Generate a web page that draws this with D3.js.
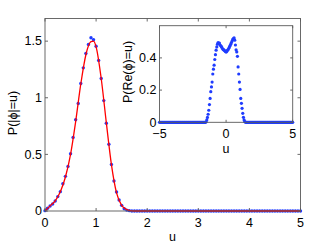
<!DOCTYPE html>
<html>
<head>
<meta charset="utf-8">
<script src="https://cdn.jsdelivr.net/npm/d3@7"></script>
<style>
  body { margin: 0; background: #fff; }
  text { font-family: "Liberation Sans", Arial, sans-serif; fill: #000; }
</style>
</head>
<body>
<div id="chart"></div>
<script>
// ---- data ----
// main panel: histogram of |phi| on a 0.05 grid
const mainU = d3.range(0, 101).map(i => i * 0.05);
const mainP = [
  0.003, 0.024, 0.044, 0.062, 0.088, 0.127, 0.171, 0.241, 0.306, 0.394,
  0.506, 0.650, 0.806, 0.950, 1.126, 1.264, 1.391, 1.470, 1.530, 1.512,
  1.455, 1.330, 1.170, 0.975, 0.775, 0.590, 0.410, 0.265, 0.168, 0.097,
  0.050, 0.020, 0.008, 0.003, 0, 0, 0, 0, 0, 0,
  0, 0, 0, 0, 0, 0, 0, 0, 0, 0,
  0, 0, 0, 0, 0, 0, 0, 0, 0, 0,
  0, 0, 0, 0, 0, 0, 0, 0, 0, 0,
  0, 0, 0, 0, 0, 0, 0, 0, 0, 0,
  0, 0, 0, 0, 0, 0, 0, 0, 0, 0,
  0, 0, 0, 0, 0, 0, 0, 0, 0, 0,
  0
];
// main panel: red theory curve
const curveU = [0, 0.1, 0.2, 0.3, 0.4, 0.5, 0.6, 0.7, 0.8, 0.9, 0.95, 1.0, 1.1, 1.2, 1.3, 1.4, 1.5, 1.6, 1.7, 1.8, 2.5, 3.5, 5];
const curveP = [0, 0.045, 0.09, 0.17, 0.30, 0.50, 0.79, 1.12, 1.38, 1.495, 1.50, 1.45, 1.17, 0.78, 0.41, 0.16, 0.05, 0.012, 0.002, 0, 0, 0, 0];

// inset: histogram of Re(phi) on a 0.05 grid from -5 to 5
const insetU = d3.range(0, 201).map(i => -5 + i * 0.05);
const insetP = [
  0, 0, 0, 0, 0, 0, 0, 0, 0, 0, 0, 0, 0, 0, 0, 0, 0, 0, 0, 0,
  0, 0, 0, 0, 0, 0, 0, 0, 0, 0, 0, 0, 0, 0, 0, 0, 0, 0, 0, 0,
  0, 0, 0, 0, 0, 0, 0, 0, 0, 0, 0, 0, 0, 0, 0, 0, 0, 0, 0, 0,
  0, 0, 0, 0, 0, 0, 0, 0, 0, 0,
  0.003, 0.015, 0.030, 0.050, 0.075, 0.110, 0.148, 0.190, 0.220, 0.250,  // -1.50 .. -1.05
  0.300, 0.330, 0.355, 0.390, 0.420, 0.448, 0.468, 0.485, 0.495, 0.490,  // -1.00 .. -0.55
  0.492, 0.480, 0.475, 0.470, 0.462, 0.455, 0.452, 0.448, 0.444, 0.440,  // -0.50 .. -0.05
  0.436, 0.440, 0.447, 0.452, 0.460, 0.468, 0.476, 0.485, 0.495, 0.505,  //  0.00 ..  0.45
  0.515, 0.520, 0.524, 0.510, 0.480, 0.450, 0.437, 0.410, 0.344, 0.300,  //  0.50 ..  0.95
  0.250, 0.204, 0.148, 0.118, 0.087, 0.056, 0.031, 0.015, 0.005, 0.001,  //  1.00 ..  1.45
  0, 0, 0, 0, 0, 0, 0, 0, 0, 0, 0, 0, 0, 0, 0, 0, 0, 0, 0, 0,
  0, 0, 0, 0, 0, 0, 0, 0, 0, 0, 0, 0, 0, 0, 0, 0, 0, 0, 0, 0,
  0, 0, 0, 0, 0, 0, 0, 0, 0, 0, 0, 0, 0, 0, 0, 0, 0, 0, 0, 0,
  0, 0, 0, 0, 0, 0, 0, 0, 0, 0, 0
];

const mainXTicks = [0, 1, 2, 3, 4, 5];
const mainYTicks = [0, 0.5, 1, 1.5];
const insetXTicks = [-5, 0, 5];
const insetYTicks = [0, 0.2, 0.4];

// ---- svg ----
const width = 332, height = 245;
const svg = d3.select("#chart").append("svg")
  .attr("width", width)
  .attr("height", height);

const dotColor = "#1f3cff";
const axisColor = "#5a5a5a";

// main axes
const x = d3.scaleLinear().domain([0, 5]).range([45, 300.5]);
const y = d3.scaleLinear().domain([0, 1.7]).range([211, 18.5]);

function drawBox(g, sx, sy, xt, yt, tick, fmtX, fmtY, fs, xLabDy) {
  const [x0, x1] = sx.range();
  const [y0, y1] = sy.range();
  g.append("rect")
    .attr("x", x0).attr("y", y1)
    .attr("width", x1 - x0).attr("height", y0 - y1)
    .attr("fill", "none").attr("stroke", axisColor).attr("stroke-width", 0.9);
  // x ticks bottom + top, pointing in
  xt.forEach(t => {
    g.append("line").attr("x1", sx(t)).attr("x2", sx(t)).attr("y1", y0).attr("y2", y0 - tick)
      .attr("stroke", axisColor).attr("stroke-width", 0.9);
    g.append("line").attr("x1", sx(t)).attr("x2", sx(t)).attr("y1", y1).attr("y2", y1 + tick)
      .attr("stroke", axisColor).attr("stroke-width", 0.9);
    g.append("text").attr("x", sx(t)).attr("y", y0 + xLabDy)
      .attr("text-anchor", "middle").style("font-size", fs + "px").text(fmtX(t));
  });
  yt.forEach(t => {
    g.append("line").attr("x1", x0).attr("x2", x0 + tick).attr("y1", sy(t)).attr("y2", sy(t))
      .attr("stroke", axisColor).attr("stroke-width", 0.9);
    g.append("line").attr("x1", x1).attr("x2", x1 - tick).attr("y1", sy(t)).attr("y2", sy(t))
      .attr("stroke", axisColor).attr("stroke-width", 0.9);
    g.append("text").attr("x", x0 - 3).attr("y", sy(t) + 4.3)
      .attr("text-anchor", "end").style("font-size", fs + "px").text(fmtY(t));
  });
}

const fmt = d => String(d).replace("-", "\u2212");

const mainG = svg.append("g");

// blue histogram points
mainG.append("g").selectAll("circle")
  .data(mainU.map((u, i) => [u, mainP[i]]))
  .enter().append("circle")
  .attr("cx", d => x(d[0]))
  .attr("cy", d => y(d[1]))
  .attr("r", 1.7)
  .attr("fill", dotColor);

// red curve
mainG.append("path")
  .datum(curveU.map((u, i) => [u, curveP[i]]))
  .attr("fill", "none")
  .attr("stroke", "#ff0000")
  .attr("stroke-width", 1.3)
  .attr("d", d3.line().x(d => x(d[0])).y(d => y(d[1])).curve(d3.curveMonotoneX));

drawBox(mainG, x, y, mainXTicks, mainYTicks, 3, fmt, fmt, 12.5, 16);

// axis titles
mainG.append("text")
  .attr("x", 172.5).attr("y", 240.5)
  .attr("text-anchor", "middle").style("font-size", "12.5px")
  .text("u");
mainG.append("text")
  .attr("transform", "translate(17,113) rotate(-90)")
  .attr("text-anchor", "middle").style("font-size", "12.5px")
  .text("P(|\u03d5|=u)");

// inset
const xi = d3.scaleLinear().domain([-5, 5]).range([159.5, 292.7]);
const yi = d3.scaleLinear().domain([0, 0.6]).range([122.3, 25.7]);
const insetG = svg.append("g");

insetG.append("rect")
  .attr("x", 159.5).attr("y", 25.7)
  .attr("width", 292.7 - 159.5).attr("height", 122.3 - 25.7)
  .attr("fill", "#fff");

insetG.append("g").selectAll("circle")
  .data(insetU.map((u, i) => [u, insetP[i]]))
  .enter().append("circle")
  .attr("cx", d => xi(d[0]))
  .attr("cy", d => yi(d[1]))
  .attr("r", 1.6)
  .attr("fill", dotColor);

drawBox(insetG, xi, yi, insetXTicks, insetYTicks, 2.5, fmt, fmt, 12.5, 16);

insetG.append("text")
  .attr("x", 226).attr("y", 153)
  .attr("text-anchor", "middle").style("font-size", "12.5px")
  .text("u");
insetG.append("text")
  .attr("transform", "translate(131.5,72) rotate(-90)")
  .attr("text-anchor", "middle").style("font-size", "12.5px")
  .text("P(Re(\u03d5)=u)");
</script>
</body>
</html>
